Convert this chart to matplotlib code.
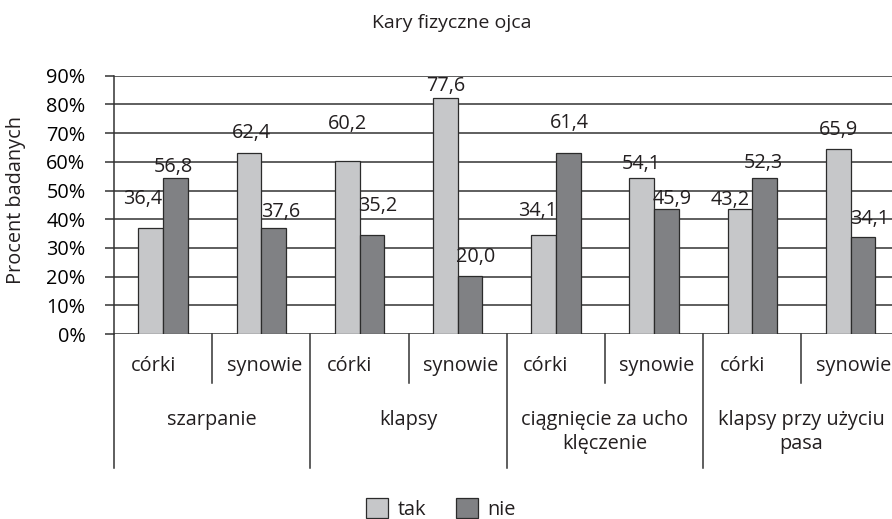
import numpy as np
import matplotlib
matplotlib.use('Agg')
import matplotlib.pyplot as plt
import matplotlib.transforms as mtransforms
from matplotlib.patches import Patch

plt.rcParams['font.family'] = ['Open Sans', 'DejaVu Sans']
plt.rcParams['text.color'] = '#231f20'

# data
groups = ['szarpanie', 'klapsy', 'ciągnięcie za ucho\nklęczenie', 'klapsy przy użyciu\npasa']
subgroups = ['córki', 'synowie']
tak = [37.0, 62.9, 60.3, 82.1, 34.4, 54.2, 43.4, 64.3]
nie = [54.2, 37.0, 34.4, 20.3, 62.9, 43.4, 54.2, 33.7]
tak_labels = ['36,4', '62,4', '60,2', '77,6', '34,1', '54,1', '43,2', '65,9']
nie_labels = ['56,8', '37,6', '35,2', '20,0', '61,4', '45,9', '52,3', '34,1']
yticks = [0, 10, 20, 30, 40, 50, 60, 70, 80, 90]

# label nudges in pixels (dx, dy above bar top), as placed in the original
tak_off = [(-8, 29), (2, 20), (0, 37), (0, 12), (-6, 24), (-1, 14), (-10, 9), (0, 19)]
nie_off = [(-2, 11), (7, 16), (6, 29), (6, 19), (1, 30), (6, 10), (-1, 15), (7, 18)]

light = '#c6c7c9'
dark = '#808184'
line_col = '#333333'
fs = 14.3

W, H = 892, 519
fig = plt.figure(figsize=(W / 100, H / 100), dpi=100)
ax = fig.add_axes([114 / W, 185 / H, 778 / W, 258.3 / H])

x = np.arange(len(tak))
w = 0.2515
ax.bar(x - w / 2, tak, w, color=light, edgecolor='#2b2b2b', linewidth=0.9, zorder=3)
ax.bar(x + w / 2, nie, w, color=dark, edgecolor='#2b2b2b', linewidth=0.9, zorder=3)

for i in range(len(tak)):
    ax.annotate(tak_labels[i], (x[i] - w / 2, tak[i]), xytext=tak_off[i],
                textcoords='offset pixels', ha='center', va='center', fontsize=fs, zorder=4)
    ax.annotate(nie_labels[i], (x[i] + w / 2, nie[i]), xytext=nie_off[i],
                textcoords='offset pixels', ha='center', va='center', fontsize=fs, zorder=4)

ax.set_xlim(-0.5, -0.5 + 778 / 98.2)
ax.set_ylim(0, 90)
ax.set_yticks(yticks)
ax.set_yticklabels([f'{v}%' for v in yticks], fontsize=fs)
ax.set_xticks([])
ax.grid(axis='y', color=line_col, linewidth=1.1, zorder=0)
ax.tick_params(axis='y', length=6.5, width=1.1, color=line_col, pad=14)
for s in ['top', 'right', 'bottom']:
    ax.spines[s].set_visible(False)
ax.spines['left'].set_color(line_col)
ax.spines['left'].set_linewidth(1.1)

# category table under the axis
trans = mtransforms.blended_transform_factory(ax.transData, ax.transAxes)
axh = 258.3
for b in [0.5, 2.5, 4.5, 6.5]:
    ax.plot([b, b], [0, -49 / axh], transform=trans, color=line_col, lw=1.1, clip_on=False)
for b in [-0.5, 1.5, 3.5, 5.5, 7.5]:
    ax.plot([b, b], [0, -133.7 / axh], transform=trans, color=line_col, lw=1.1, clip_on=False)

for i in range(len(tak)):
    sub = subgroups[i % 2]
    dx = -10 if i % 2 == 0 else 3
    ax.annotate(sub, (x[i], -32 / axh), xycoords=trans, xytext=(dx, 0),
                textcoords='offset pixels', ha='center', va='center', fontsize=fs)

for g, name in enumerate(groups):
    ax.text(2 * g + 0.5, -76 / axh, name, transform=trans, ha='center', va='top',
            fontsize=fs, linespacing=1.25)

fig.text(452 / W, 1 - 23 / H, 'Kary fizyczne ojca', ha='center', va='center', fontsize=14)
fig.text(16 / W, 1 - 200 / H, 'Procent badanych', rotation=90, ha='center', va='center', fontsize=fs)

handles = [Patch(facecolor=light, edgecolor='#2b2b2b', linewidth=0.9),
           Patch(facecolor=dark, edgecolor='#2b2b2b', linewidth=0.9)]
fig.legend(handles, ['tak', 'nie'], loc='center', bbox_to_anchor=(441 / W, 10 / H), ncol=2,
           frameon=False, fontsize=fs, handlelength=1.1, handleheight=1.2,
           handletextpad=0.5, columnspacing=1.5, borderpad=0, borderaxespad=0)

fig.savefig('out.png', dpi=100)
